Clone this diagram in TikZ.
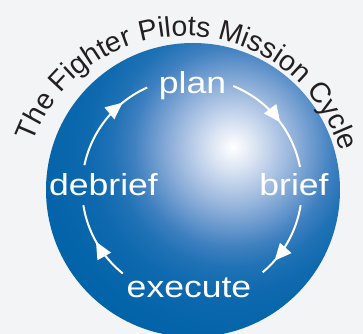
\documentclass[tikz,border=0pt]{standalone}
\usepackage{fontspec}
\usetikzlibrary{arrows.meta,decorations.markings,decorations.text}
\newfontfamily\titlefont{Liberation Sans}
\newfontfamily\labelfont{Liberation Sans}[FakeStretch=1.17]
\definecolor{bg}{HTML}{F3F4F6}
\definecolor{titlec}{HTML}{231F20}
\definecolor{g1}{HTML}{F7F9FD}
\definecolor{g2}{HTML}{DFE7F4}
\definecolor{g3}{HTML}{BACDE8}
\definecolor{g4}{HTML}{94B3DB}
\definecolor{g5}{HTML}{6A99CE}
\definecolor{g6}{HTML}{3F80C0}
\definecolor{g7}{HTML}{2072B5}
\definecolor{g8}{HTML}{0F69AF}
\definecolor{g9}{HTML}{0665AA}
\definecolor{g10}{HTML}{0062A7}
\pgfdeclareradialshading{sphereabs}{\pgfpoint{0bp}{0bp}}{color(0bp)=(white); color(5bp)=(g1); color(20bp)=(g2); color(40bp)=(g3); color(60bp)=(g4); color(80bp)=(g5); color(100bp)=(g6); color(120bp)=(g7); color(145bp)=(g8); color(180bp)=(g9); color(215bp)=(g10)}
\tikzset{
  lbl/.style={text=white, font=\labelfont\fontsize{30.5}{30.5}\selectfont, inner sep=0pt, anchor=base},
  cyc/.style={draw=white, line width=2bp},
  arrowat/.style={postaction={decorate}, decoration={markings, mark=at position #1 with {\arrow{Triangle[length=17bp,width=15bp]}}}}
}
\begin{document}
\begin{tikzpicture}[x=1bp,y=1bp]
\useasboundingbox (0,0) rectangle (363,334);
\fill[bg] (0,0) rectangle (363,334);
\coordinate (S) at (193,144);
\coordinate (H) at (233,187);
\coordinate (C) at (192,146);
\coordinate (T) at (185,136);
\begin{scope}
  \clip (0,0) rectangle (363,334);
  \clip (S) circle[radius=147bp];
  \node[inner sep=0pt, outer sep=0pt] (glow) at (H) {\pgfuseshading{sphereabs}};
\end{scope}
% title along arc
\path[decorate, decoration={text along path, text={|\titlefont\fontsize{28.5}{28.5}\selectfont\color{titlec}|The Fighter Pilots Mission Cycle}, text align=fit to path}]
  ([shift={(160:162bp)}]T) arc[start angle=160, end angle=19, radius=162bp];
% labels
\node[lbl] (plan) at (192.5,241) {plan};
\node[lbl] (brief) at (294,139) {brief};
\node[lbl] (execute) at (189,37) {execute};
\node[lbl] (debrief) at (103.5,139) {debrief};
% cycle arcs
\coordinate (a1) at ([shift={(68:110bp)}]C);
\coordinate (a2) at ([shift={(-9:110bp)}]C);
\coordinate (a3) at ([shift={(231:110bp)}]C);
\coordinate (a4) at ([shift={(168:110bp)}]C);
\draw[cyc, arrowat=0.55] (a1) arc[start angle=68, end angle=11, radius=110bp];
\draw[cyc, arrowat=0.79] (a2) arc[start angle=-9, end angle=-50, radius=110bp];
\draw[cyc, arrowat=0.52] (a3) arc[start angle=231, end angle=189, radius=110bp];
\draw[cyc, arrowat=0.72] (a4) arc[start angle=168, end angle=114, radius=110bp];
\end{tikzpicture}
\end{document}
